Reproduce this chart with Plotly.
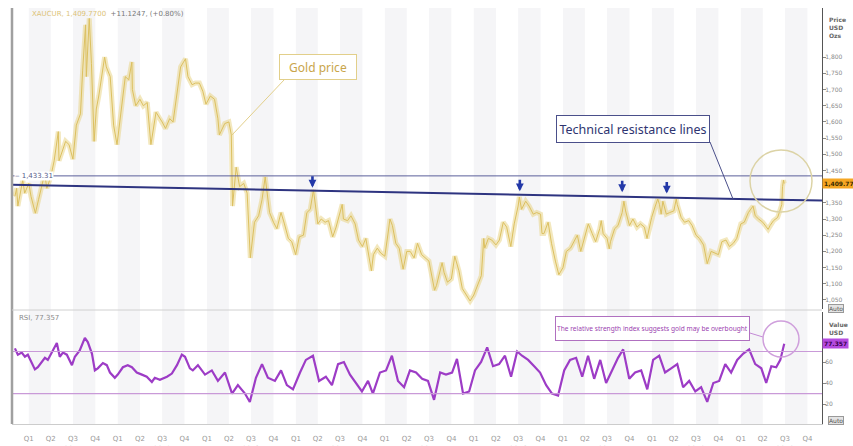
import plotly.graph_objects as go

# ---------------- data ----------------
price_dates = [
"2010-11-05","2010-11-12","2010-11-17","2010-12-01","2010-12-07","2010-12-15","2011-01-01","2011-01-10","2011-01-28","2011-02-10",
"2011-02-24","2011-03-07","2011-03-16","2011-04-01","2011-04-15","2011-05-02","2011-05-05","2011-05-15","2011-06-01","2011-06-15",
"2011-07-01","2011-07-15","2011-08-01","2011-08-10","2011-08-22","2011-08-25","2011-09-06","2011-09-15","2011-09-26","2011-10-05",
"2011-10-15","2011-11-08","2011-11-15","2011-12-01","2011-12-15","2011-12-29","2012-01-15","2012-02-01","2012-02-15","2012-02-28",
"2012-03-01","2012-03-15","2012-04-01","2012-04-15","2012-05-01","2012-05-16","2012-06-06","2012-06-15","2012-07-01","2012-07-15",
"2012-08-01","2012-08-15","2012-09-01","2012-09-15","2012-10-05","2012-10-15","2012-11-01","2012-11-15","2012-12-01","2012-12-15",
"2012-12-28","2013-01-15","2013-02-01","2013-02-15","2013-02-21","2013-03-15","2013-04-01","2013-04-11","2013-04-16","2013-05-01",
"2013-05-15","2013-06-01","2013-06-15","2013-06-28","2013-07-15","2013-08-01","2013-08-15","2013-08-28","2013-09-15","2013-10-01",
"2013-10-15","2013-11-01","2013-11-15","2013-12-01","2013-12-15","2013-12-31","2014-01-15","2014-02-01","2014-02-15","2014-03-01",
"2014-03-14","2014-04-01","2014-04-15","2014-05-01","2014-05-15","2014-06-01","2014-06-15","2014-07-01","2014-07-10","2014-07-15",
"2014-08-01","2014-08-15","2014-09-01","2014-09-15","2014-10-01","2014-10-15","2014-10-31","2014-11-07","2014-11-15","2014-12-01",
"2014-12-15","2015-01-01","2015-01-15","2015-01-22","2015-02-01","2015-02-15","2015-03-01","2015-03-17","2015-04-01","2015-04-15",
"2015-05-01","2015-05-15","2015-06-01","2015-06-15","2015-07-01","2015-07-24","2015-08-01","2015-08-24","2015-09-01","2015-09-15",
"2015-10-01","2015-10-15","2015-11-01","2015-11-15","2015-12-01","2015-12-17","2016-01-01","2016-01-15","2016-02-01","2016-02-11",
"2016-02-15","2016-03-01","2016-03-15","2016-04-01","2016-04-15","2016-05-01","2016-05-15","2016-06-01","2016-06-15","2016-07-01",
"2016-07-06","2016-07-15","2016-08-01","2016-08-15","2016-09-01","2016-09-15","2016-10-01","2016-10-07","2016-10-15","2016-11-01",
"2016-11-15","2016-12-01","2016-12-15","2017-01-01","2017-01-15","2017-02-01","2017-02-15","2017-03-01","2017-03-15","2017-04-01",
"2017-04-15","2017-05-01","2017-05-15","2017-06-01","2017-06-07","2017-06-15","2017-07-01","2017-07-10","2017-07-15","2017-08-01",
"2017-08-15","2017-09-01","2017-09-08","2017-09-15","2017-10-01","2017-10-15","2017-11-01","2017-11-15","2017-12-01","2017-12-12",
"2017-12-31","2018-01-15","2018-01-25","2018-02-01","2018-02-08","2018-02-15","2018-03-01","2018-03-15","2018-04-01","2018-04-11",
"2018-04-15","2018-05-01","2018-05-15","2018-06-01","2018-06-15","2018-07-01","2018-07-15","2018-08-01","2018-08-16","2018-09-01",
"2018-09-15","2018-10-01","2018-10-15","2018-11-01","2018-11-15","2018-12-01","2018-12-15","2019-01-01","2019-01-15","2019-02-01",
"2019-02-20","2019-03-01","2019-03-15","2019-04-01","2019-04-23","2019-05-01","2019-05-15","2019-06-01","2019-06-10","2019-06-18",
"2019-06-21","2019-06-25","2019-06-28"]
price_values = [
1370,1395,1340,1390,1420,1380,1410,1370,1318,1360,
1410,1440,1395,1430,1480,1570,1480,1500,1540,1530,
1485,1590,1625,1760,1900,1740,1920,1780,1540,1640,
1680,1800,1770,1740,1590,1530,1640,1740,1730,1785,
1700,1650,1670,1650,1660,1530,1630,1620,1600,1580,
1610,1600,1690,1770,1795,1740,1715,1720,1720,1695,
1655,1680,1670,1610,1560,1595,1600,1560,1340,1460,
1400,1410,1380,1180,1290,1310,1360,1430,1320,1290,
1270,1320,1285,1240,1230,1190,1245,1250,1320,1330,
1390,1285,1300,1290,1295,1245,1275,1325,1345,1300,
1295,1310,1285,1235,1215,1240,1165,1140,1190,1210,
1195,1185,1260,1300,1280,1225,1210,1145,1200,1200,
1180,1225,1190,1180,1170,1080,1095,1165,1135,1105,
1115,1185,1140,1085,1065,1047,1065,1090,1125,1240,
1210,1240,1235,1220,1235,1290,1275,1215,1285,1340,
1368,1330,1355,1340,1315,1320,1315,1255,1255,1290,
1225,1170,1128,1150,1200,1210,1230,1250,1200,1250,
1285,1255,1230,1270,1295,1255,1240,1208,1230,1270,
1280,1320,1355,1325,1280,1300,1275,1285,1275,1240,
1305,1340,1362,1345,1315,1355,1315,1320,1325,1362,
1345,1305,1290,1295,1280,1250,1240,1220,1162,1200,
1195,1190,1230,1235,1215,1225,1240,1285,1290,1320,
1340,1310,1300,1290,1268,1280,1295,1305,1325,1345,
1400,1420,1409.77]

rsi_dates = [
"2010-11-05","2010-11-17","2010-12-03","2010-12-16","2010-12-28","2011-01-13","2011-01-26","2011-02-07","2011-02-23","2011-03-08",
"2011-03-20","2011-04-10","2011-04-26","2011-05-08","2011-05-21","2011-06-06","2011-06-27","2011-07-09","2011-07-29","2011-08-19",
"2011-08-31","2011-09-17","2011-09-29","2011-10-11","2011-11-01","2011-11-17","2011-11-30","2011-12-20","2012-01-01","2012-01-22",
"2012-02-11","2012-02-28","2012-03-19","2012-04-09","2012-04-29","2012-05-20","2012-06-01","2012-06-22","2012-07-21","2012-08-10",
"2012-08-31","2012-09-20","2012-10-03","2012-10-23","2012-11-04","2012-11-25","2012-12-24","2013-01-21","2013-02-15","2013-03-16",
"2013-04-14","2013-05-08","2013-06-06","2013-06-26","2013-07-21","2013-08-15","2013-09-08","2013-10-07","2013-11-01","2013-11-25",
"2013-12-20","2014-01-18","2014-02-11","2014-03-12","2014-04-06","2014-05-04","2014-05-29","2014-06-23","2014-07-17","2014-08-11",
"2014-09-05","2014-09-29","2014-10-24","2014-11-13","2014-12-12","2015-01-06","2015-01-30","2015-02-24","2015-03-21","2015-04-14",
"2015-05-09","2015-06-03","2015-06-27","2015-07-22","2015-08-16","2015-09-09","2015-10-04","2015-10-24","2015-11-18","2015-12-13",
"2016-01-06","2016-01-31","2016-02-25","2016-03-20","2016-04-14","2016-05-08","2016-06-02","2016-06-27","2016-07-17","2016-08-11",
"2016-09-05","2016-09-29","2016-10-24","2016-11-17","2016-12-12","2017-01-06","2017-01-30","2017-02-24","2017-03-21","2017-04-14",
"2017-05-09","2017-06-03","2017-06-27","2017-07-22","2017-08-15","2017-09-05","2017-09-30","2017-10-24","2017-11-18","2017-12-13",
"2018-01-06","2018-01-31","2018-02-24","2018-03-21","2018-04-15","2018-05-09","2018-06-03","2018-06-28","2018-07-22","2018-08-16",
"2018-09-10","2018-10-04","2018-10-29","2018-11-22","2018-12-17","2019-01-11","2019-02-04","2019-03-01","2019-03-26","2019-04-15",
"2019-05-06","2019-05-26","2019-06-12","2019-06-28"]
rsi_values = [
73,67,69,65,67,59,53,55,60,64,
62,71,78,65,69,67,57,65,71,83,
79,68,52,54,59,57,50,45,48,55,
57,55,50,48,46,41,45,43,46,49,
57,67,65,54,52,57,48,52,42,50,
30,38,30,22,45,58,45,42,52,38,
34,50,62,66,42,46,38,58,60,48,
40,32,42,30,50,52,66,42,36,52,
50,44,42,24,50,48,50,63,30,32,
52,60,74,56,58,66,46,70,66,62,
56,50,38,30,28,52,62,64,46,66,
44,62,40,52,64,72,44,50,52,34,
62,66,50,54,58,36,42,32,36,22,
40,42,58,50,62,68,72,58,54,40,
56,55,62,77.357]

resistance_flat = 1433.31
resistance_slope_dates = ["2010-10-24", "2019-11-30"]
resistance_slope_values = [1406, 1357]

arrow_dates = ["2014-03-10", "2016-07-08", "2017-09-01", "2018-03-03"]
arrow_values = [1397, 1386, 1383, 1379]

quarter_years = list(range(2011, 2020))
price_ticks = list(range(1050, 1801, 50))
rsi_ticks = [20, 40, 60, 80]

last_price = 1409.77
last_rsi = 77.357

# ---------------- layout helpers (pixel -> paper) ----------------
L, R, T, B = 12, 31, 8, 22
W, H = 853, 446
def px(x):
    return (x - L) / (W - L - R)
def py(y):
    return (H - B - y) / (H - T - B)

GOLD = "#dcc060"
NAVY = "#2e3480"
PURPLE = "#9d3cc6"
GREY = "#8a8a8a"
FONT = "Noto Sans"

fig = go.Figure()

fig.add_trace(go.Scatter(x=price_dates, y=price_values, mode="lines",
                         line=dict(color="rgba(232,210,125,0.5)", width=5),
                         xaxis="x2", yaxis="y", hoverinfo="skip", showlegend=False))
fig.add_trace(go.Scatter(x=price_dates, y=price_values, mode="lines",
                         line=dict(color=GOLD, width=1),
                         xaxis="x2", yaxis="y", showlegend=False))
fig.add_trace(go.Scatter(x=resistance_slope_dates, y=[resistance_flat, resistance_flat], mode="lines",
                         line=dict(color="#5b5f9a", width=1), xaxis="x2", yaxis="y", showlegend=False))
fig.add_trace(go.Scatter(x=resistance_slope_dates, y=resistance_slope_values, mode="lines",
                         line=dict(color=NAVY, width=2), xaxis="x2", yaxis="y", showlegend=False))
fig.add_trace(go.Scatter(x=rsi_dates, y=rsi_values, mode="lines",
                         line=dict(color=PURPLE, width=2.2), xaxis="x", yaxis="y2", showlegend=False))

tickvals, ticktext = [], []
for yr in quarter_years:
    for q, m in enumerate(["01", "04", "07", "10"]):
        tickvals.append(f"{yr}-{m}-01")
        ticktext.append(f"Q{q+1}<br>{yr}" if q == 2 else f"Q{q+1}")

shapes = []
for yr in quarter_years:
    for m0, m1 in [("01", "04"), ("07", "10")]:
        shapes.append(dict(type="rect", xref="x", yref="paper", x0=f"{yr}-{m0}-01", x1=f"{yr}-{m1}-01",
                           y0=0, y1=1, fillcolor="#f5f5f7", line=dict(width=0), layer="below"))
for lvl in [70, 30]:
    shapes.append(dict(type="line", xref="paper", yref="y2", x0=0, x1=1, y0=lvl, y1=lvl,
                       line=dict(color="#c99ad8", width=1.2)))
shapes.append(dict(type="line", xref="paper", yref="paper", x0=0, x1=0, y0=0, y1=1,
                   line=dict(color="#a0a0a0", width=2.5)))
shapes.append(dict(type="line", xref="paper", yref="paper", x0=0, x1=1, y0=py(310), y1=py(310),
                   line=dict(color="#d0d0d0", width=1)))
shapes.append(dict(type="line", xref="paper", yref="paper", x0=px(284), y0=py(80), x1=px(232), y1=py(135),
                   line=dict(color="#e2cf8a", width=1)))
shapes.append(dict(type="line", xref="paper", yref="paper", x0=px(710), y0=py(142), x1=px(733), y1=py(199),
                   line=dict(color="#4a4f8a", width=1)))
shapes.append(dict(type="line", xref="paper", yref="paper", x0=px(740), y0=py(330), x1=px(763), y1=py(337),
                   line=dict(color="#c38ad6", width=1)))
shapes.append(dict(type="circle", xref="paper", yref="paper", x0=px(750), x1=px(812), y0=py(212), y1=py(150),
                   line=dict(color="#dcd3a6", width=1.5)))
shapes.append(dict(type="circle", xref="paper", yref="paper", x0=px(763), x1=px(799), y0=py(357), y1=py(321),
                   line=dict(color="#cf9fdc", width=1.5)))

annotations = []
def note(**kw):
    kw.setdefault("xref", "paper"); kw.setdefault("yref", "paper")
    kw.setdefault("showarrow", False)
    kw.setdefault("xanchor", "center"); kw.setdefault("yanchor", "middle")
    annotations.append(kw)

note(x=px(318), y=py(67), text="Gold price", font=dict(family=FONT, size=12, color="#c9a54a"),
     bgcolor="white", bordercolor="#e2cf8a", borderwidth=1, width=74, height=22)
note(x=px(633), y=py(129), text="Technical resistance lines", font=dict(family=FONT, size=12.5, color="#2e3470"),
     bgcolor="white", bordercolor="#4a4f8a", borderwidth=1, width=150, height=24)
note(x=px(652), y=py(328), text="The relative strength index suggests gold may be overbought",
     font=dict(family=FONT, size=6.6, color="#9b3fb0"), bgcolor="white",
     bordercolor="#b070c0", borderwidth=1, height=21)
for d, v in zip(arrow_dates, arrow_values):
    annotations.append(dict(xref="x2", yref="y", x=d, y=v, ax=0, ay=-13, showarrow=True, text="",
                            arrowhead=2, arrowsize=0.6, arrowwidth=2.6, arrowcolor="#2338a8"))
note(x=px(30), y=py(14), xanchor="left",
     text="<span style='color:#dcc378'>XAUCUR, 1,409.7700</span>  <span style='color:#777'>+11.1247, (+0.80%)</span>",
     font=dict(family="DejaVu Sans", size=7))
note(x=px(17), y=py(318), xanchor="left", text="RSI, 77.357", font=dict(family="DejaVu Sans", size=7, color=GREY))
note(x=px(14), y=resistance_flat, yref="y", xanchor="left", text="‒ 1,433.31", bgcolor="white", borderpad=0,
     font=dict(family="DejaVu Sans", size=7, color="#555a8a"))
note(x=1.0, y=last_price, yref="y", xanchor="left", text="<b>1,409.77</b>", bgcolor="#f5a623", borderpad=1,
     font=dict(family="DejaVu Sans", size=6, color="#3a2a00"))
note(x=1.0, y=last_rsi, yref="y2", xanchor="left", text="<b>77.357</b>", bgcolor="#b54be0", borderpad=1,
     font=dict(family="DejaVu Sans", size=6, color="#3a0050"))
note(x=px(827), y=py(14), xanchor="left", yanchor="top", align="left", text="<b>Price<br>USD<br>Ozs</b>",
     font=dict(family="DejaVu Sans", size=6, color="#666"))
note(x=px(827), y=py(319), xanchor="left", yanchor="top", align="left", text="<b>Value<br>USD</b>",
     font=dict(family="DejaVu Sans", size=6, color="#666"))
for yy in [308, 420]:
    note(x=px(828), y=py(yy), xanchor="left", text="Auto", bgcolor="#e4e4e4", bordercolor="#999",
         borderwidth=1, borderpad=0, font=dict(family="DejaVu Sans", size=6, color="#555"))

fig.update_layout(
    width=W, height=H, margin=dict(l=L, r=R, t=T, b=B, autoexpand=False),
    paper_bgcolor="white", plot_bgcolor="white", showlegend=False,
    xaxis=dict(type="date", range=["2010-10-24", "2019-11-30"], domain=[0, 1], anchor="y2", automargin=False,
               tickvals=tickvals, ticktext=ticktext, showgrid=False, zeroline=False,
               tickfont=dict(family="DejaVu Sans", size=7, color="#999"),
               ticks="outside", ticklen=8, tickcolor="rgba(0,0,0,0)",
               showline=True, linecolor="#cccccc"),
    xaxis2=dict(type="date", range=["2010-10-24", "2019-11-30"], domain=[0, 1], anchor="y", automargin=False,
                matches="x", showticklabels=False, showgrid=False, zeroline=False),
    yaxis=dict(domain=[py(309), 1], range=[1022, 1952], side="right", anchor="x2", automargin=False,
               tickvals=price_ticks, ticktext=["" if v == 1400 else f"{v:,}" for v in price_ticks],
               tickfont=dict(family="DejaVu Sans", size=6, color="#888"), ticklabelstandoff=-2,
               ticks="outside", ticklen=3, tickcolor="#888", showgrid=False, zeroline=False,
               showline=True, linecolor="#555", linewidth=1),
    yaxis2=dict(domain=[0, py(312)], range=[1, 107.6], side="right", anchor="x", automargin=False,
                tickvals=rsi_ticks, ticktext=["20", "40", "60", ""],
                tickfont=dict(family="DejaVu Sans", size=6, color="#888"), ticklabelstandoff=-2,
                ticks="outside", ticklen=3, tickcolor="#888", showgrid=False, zeroline=False,
                showline=True, linecolor="#555", linewidth=1),
    shapes=shapes, annotations=annotations,
)

fig.write_html("out.html", config={"displayModeBar": False},
               post_script="document.body.style.margin='0px';document.body.style.overflow='hidden';")
